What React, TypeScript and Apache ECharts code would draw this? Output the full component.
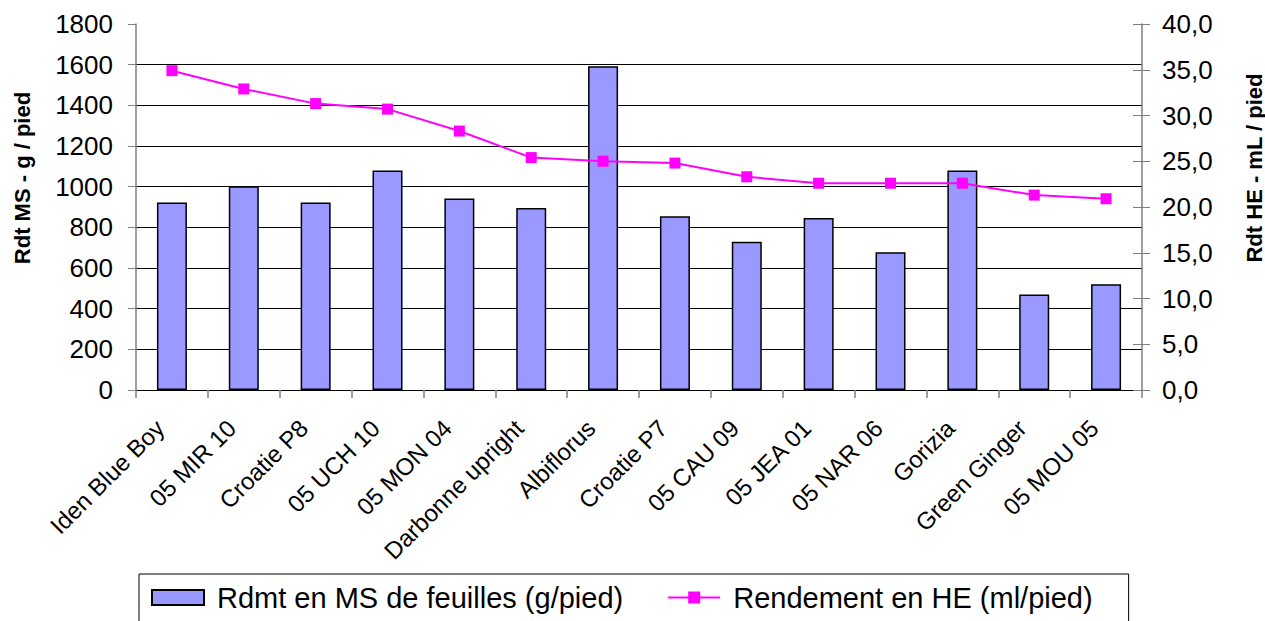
import React, { useEffect, useRef } from "react";
import * as echarts from "echarts";

const categories = [
  "Iden Blue Boy",
  "05 MIR 10",
  "Croatie P8",
  "05 UCH 10",
  "05 MON 04",
  "Darbonne upright",
  "Albiflorus",
  "Croatie P7",
  "05 CAU 09",
  "05 JEA 01",
  "05 NAR 06",
  "Gorizia",
  "Green Ginger",
  "05 MOU 05",
];

const msValues = [922, 1002, 922, 1080, 942, 895, 1592, 855, 729, 846, 677, 1080, 470, 520];
const heValues = [34.9, 32.9, 31.3, 30.7, 28.3, 25.4, 25.0, 24.8, 23.3, 22.6, 22.6, 22.6, 21.3, 20.9];

const msName = "Rdmt en MS de feuilles (g/pied)";
const heName = "Rendement en HE (ml/pied)";
const leftTitle = "Rdt MS - g / pied";
const rightTitle = "Rdt HE - mL / pied";

const FONT = "'Liberation Sans', Arial, sans-serif";

export default function App() {
  const ref = useRef<HTMLDivElement>(null);

  useEffect(() => {
    if (!ref.current) return;
    const chart = echarts.init(ref.current, undefined, { renderer: "svg" });
    chart.setOption({
      animation: false,
      backgroundColor: "#ffffff",
      textStyle: { fontFamily: FONT },
      grid: { left: 136, right: 123, top: 24, bottom: 231, containLabel: false },
      legend: {
        left: 139,
        top: 574,
        orient: "horizontal",
        padding: [9, 36, 30, 12],
        itemGap: 44,
        itemWidth: 52,
        itemHeight: 15,
        borderColor: "#000000",
        borderWidth: 1,
        textStyle: { fontFamily: FONT, fontSize: 29, color: "#000000", padding: [0, 0, 0, 8] },
        data: [
          { name: msName, icon: "rect" },
          { name: heName },
        ],
      },
      xAxis: {
        type: "category",
        data: categories,
        boundaryGap: true,
        axisLine: { lineStyle: { color: "#000000", width: 1 } },
        axisTick: { show: true, alignWithLabel: false, length: 8, lineStyle: { color: "#7f7f7f", width: 1.5 } },
        axisLabel: {
          interval: 0,
          rotate: 45,
          fontSize: 24,
          color: "#000000",
          margin: 22,
          padding: [0, 17, 0, 0],
          fontFamily: FONT,
        },
      },
      yAxis: [
        {
          type: "value",
          min: 0,
          max: 1800,
          interval: 200,
          position: "left",
          axisLine: { show: true, lineStyle: { color: "#7f7f7f", width: 1.5 } },
          axisTick: { show: true, length: 8, lineStyle: { color: "#7f7f7f", width: 1 } },
          axisLabel: {
            fontSize: 26,
            color: "#000000",
            margin: 23,
            fontFamily: FONT,
            formatter: (v: number) => String(v),
          },
          splitLine: { show: true, showMaxLine: false, lineStyle: { color: "#000000", width: 1 } },
        },
        {
          type: "value",
          min: 0,
          max: 40,
          interval: 5,
          position: "right",
          axisLine: { show: true, lineStyle: { color: "#7f7f7f", width: 1.5 } },
          axisTick: { show: true, length: 8, lineStyle: { color: "#7f7f7f", width: 1 } },
          axisLabel: {
            fontSize: 26,
            color: "#000000",
            margin: 20,
            fontFamily: FONT,
            formatter: (v: number) => v.toFixed(1).replace(".", ","),
          },
          splitLine: { show: false },
        },
        {
          type: "value",
          min: 0,
          max: 40,
          interval: 5,
          position: "right",
          axisLine: { show: false },
          axisTick: { show: true, inside: true, length: 9, lineStyle: { color: "#7f7f7f", width: 1 } },
          axisLabel: { show: false },
          splitLine: { show: false },
        },
      ],
      series: [
        {
          name: msName,
          type: "bar",
          yAxisIndex: 0,
          data: msValues,
          barWidth: 30,
          itemStyle: { color: "#9999ff", borderColor: "#000000", borderWidth: 1.5 },
        },
        {
          name: heName,
          type: "line",
          yAxisIndex: 1,
          data: heValues,
          symbol: "rect",
          symbolSize: 11,
          lineStyle: { color: "#ff00ff", width: 2 },
          itemStyle: { color: "#ff00ff" },
        },
      ],
      graphic: [
        {
          type: "text",
          x: 22,
          y: 178,
          rotation: Math.PI / 2,
          style: {
            text: leftTitle,
            fontFamily: FONT,
            fontWeight: "bold",
            fontSize: 22,
            fill: "#000000",
            textAlign: "center",
            textVerticalAlign: "middle",
          },
        },
        {
          type: "text",
          x: 1254,
          y: 168,
          rotation: Math.PI / 2,
          style: {
            text: rightTitle,
            fontFamily: FONT,
            fontWeight: "bold",
            fontSize: 22,
            fill: "#000000",
            textAlign: "center",
            textVerticalAlign: "middle",
          },
        },
      ],
    });
    return () => chart.dispose();
  }, []);

  return (
    <div
      ref={ref}
      style={{ position: "fixed", left: 0, top: 0, width: 1265, height: 621 }}
    />
  );
}
